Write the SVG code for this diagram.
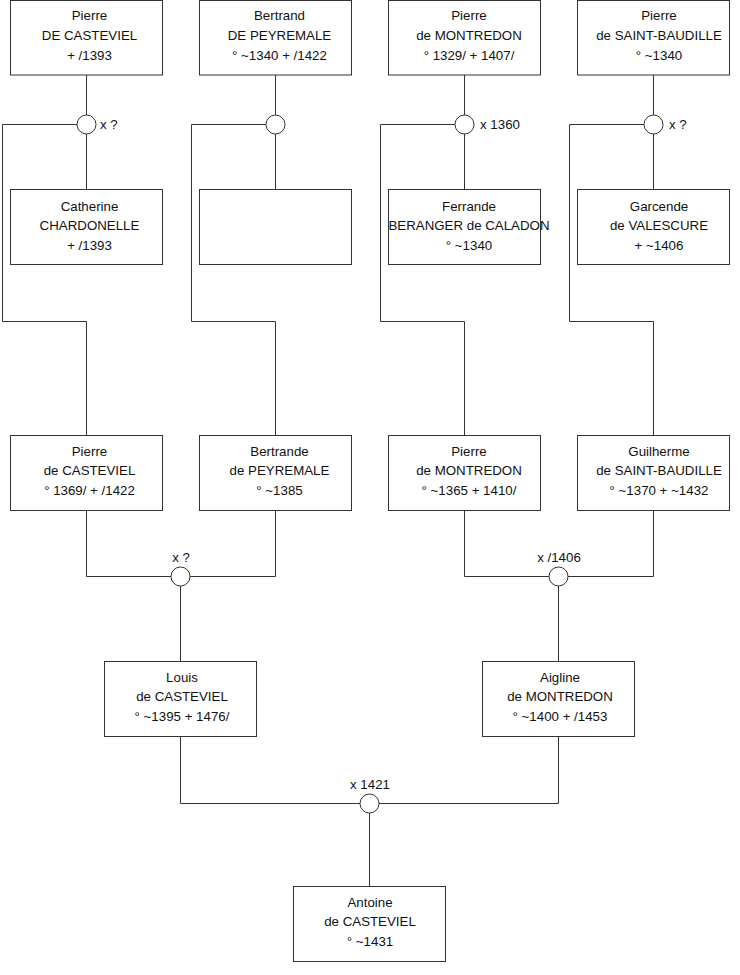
<svg xmlns="http://www.w3.org/2000/svg" width="740" height="975" viewBox="0 0 740 975">
<style>
.box{fill:#fff;stroke:#333;stroke-width:1}
.ln{fill:none;stroke:#333;stroke-width:1}
.ring{fill:#fff;stroke:#333;stroke-width:1}
text{font-family:"Liberation Sans",Arial,sans-serif;font-size:13.3px;fill:#111}
.c{text-anchor:middle}
</style>
<rect width="740" height="975" fill="#fff"/>
<g id="connectors">
<path class="ln" d="M86.5 75 V189.5 M275.5 75 V189.5 M464.5 75 V189.5 M653.5 75 V189.5"/>
<path class="ln" d="M77 124.5 H2.5 V321.5 H86.5 V435.5"/>
<path class="ln" d="M266 124.5 H191.5 V321.5 H275.5 V435.5"/>
<path class="ln" d="M455 124.5 H380.5 V321.5 H464.5 V435.5"/>
<path class="ln" d="M644 124.5 H569.5 V321.5 H653.5 V435.5"/>
<path class="ln" d="M86.5 510.5 V576.5 H275.5 V510.5"/>
<path class="ln" d="M180.5 576.5 V661.5"/>
<path class="ln" d="M464.5 510.5 V576.5 H653.5 V510.5"/>
<path class="ln" d="M558.5 576.5 V661.5"/>
<path class="ln" d="M180.5 736.5 V803.5 H558.5 V736.5"/>
<path class="ln" d="M369.5 803.5 V886.5"/>
<circle class="ring" cx="86.5" cy="124.5" r="9.5"/>
<circle class="ring" cx="275.5" cy="124.5" r="9.5"/>
<circle class="ring" cx="464.5" cy="124.5" r="9.5"/>
<circle class="ring" cx="653.5" cy="124.5" r="9.5"/>
<circle class="ring" cx="180.5" cy="576.5" r="9.5"/>
<circle class="ring" cx="558.5" cy="576.5" r="9.5"/>
<circle class="ring" cx="369.5" cy="803.5" r="9.5"/>
<text x="100" y="129">x ?</text>
<text x="480" y="129">x 1360</text>
<text x="669" y="129">x ?</text>
<text class="c" x="181" y="562">x ?</text>
<text class="c" x="559" y="562">x /1406</text>
<text class="c" x="370" y="789">x 1421</text>
</g>
<g id="n1"><rect class="box" x="10.5" y="0.5" width="152" height="74.5"/>
<text class="c" x="89.5" y="20">Pierre</text><text class="c" x="89.5" y="40">DE CASTEVIEL</text><text class="c" x="89.5" y="59.5">+ /1393</text></g>
<g id="n2"><rect class="box" x="199.5" y="0.5" width="152" height="74.5"/>
<text class="c" x="279.5" y="20">Bertrand</text><text class="c" x="279.5" y="40">DE PEYREMALE</text><text class="c" x="279.5" y="59.5">° ~1340 + /1422</text></g>
<g id="n3"><rect class="box" x="388.5" y="0.5" width="152" height="74.5"/>
<text class="c" x="469" y="20">Pierre</text><text class="c" x="469" y="40">de MONTREDON</text><text class="c" x="469" y="59.5">° 1329/ + 1407/</text></g>
<g id="n4"><rect class="box" x="577.5" y="0.5" width="152" height="74.5"/>
<text class="c" x="659" y="20">Pierre</text><text class="c" x="659" y="40">de SAINT-BAUDILLE</text><text class="c" x="659" y="59.5">° ~1340</text></g>
<g id="n5"><rect class="box" x="10.5" y="189.5" width="152" height="75"/>
<text class="c" x="89.5" y="210.5">Catherine</text><text class="c" x="89.5" y="230">CHARDONELLE</text><text class="c" x="89.5" y="249.5">+ /1393</text></g>
<g id="n6"><rect class="box" x="199.5" y="189.5" width="152" height="75"/></g>
<g id="n7"><rect class="box" x="388.5" y="189.5" width="152" height="75"/>
<text class="c" x="469" y="210.5">Ferrande</text><text class="c" x="469" y="230">BERANGER de CALADON</text><text class="c" x="469" y="249.5">° ~1340</text></g>
<g id="n8"><rect class="box" x="577.5" y="189.5" width="152" height="75"/>
<text class="c" x="659" y="210.5">Garcende</text><text class="c" x="659" y="230">de VALESCURE</text><text class="c" x="659" y="249.5">+ ~1406</text></g>
<g id="n9"><rect class="box" x="10.5" y="435.5" width="152" height="75"/>
<text class="c" x="89.5" y="455.5">Pierre</text><text class="c" x="89.5" y="475">de CASTEVIEL</text><text class="c" x="89.5" y="494.5">° 1369/ + /1422</text></g>
<g id="n10"><rect class="box" x="199.5" y="435.5" width="152" height="75"/>
<text class="c" x="279.5" y="455.5">Bertrande</text><text class="c" x="279.5" y="475">de PEYREMALE</text><text class="c" x="279.5" y="494.5">° ~1385</text></g>
<g id="n11"><rect class="box" x="388.5" y="435.5" width="152" height="75"/>
<text class="c" x="469" y="455.5">Pierre</text><text class="c" x="469" y="475">de MONTREDON</text><text class="c" x="469" y="494.5">° ~1365 + 1410/</text></g>
<g id="n12"><rect class="box" x="577.5" y="435.5" width="152" height="75"/>
<text class="c" x="659" y="455.5">Guilherme</text><text class="c" x="659" y="475">de SAINT-BAUDILLE</text><text class="c" x="659" y="494.5">° ~1370 + ~1432</text></g>
<g id="n13"><rect class="box" x="104.5" y="661.5" width="152" height="75"/>
<text class="c" x="182" y="681.5">Louis</text><text class="c" x="182" y="701">de CASTEVIEL</text><text class="c" x="182" y="720.5">° ~1395 + 1476/</text></g>
<g id="n14"><rect class="box" x="482.5" y="661.5" width="152" height="75"/>
<text class="c" x="560" y="681.5">Aigline</text><text class="c" x="560" y="701">de MONTREDON</text><text class="c" x="560" y="720.5">° ~1400 + /1453</text></g>
<g id="n15"><rect class="box" x="293.5" y="886.5" width="152" height="75"/>
<text class="c" x="370" y="906.5">Antoine</text><text class="c" x="370" y="926">de CASTEVIEL</text><text class="c" x="370" y="945.5">° ~1431</text></g>
</svg>
